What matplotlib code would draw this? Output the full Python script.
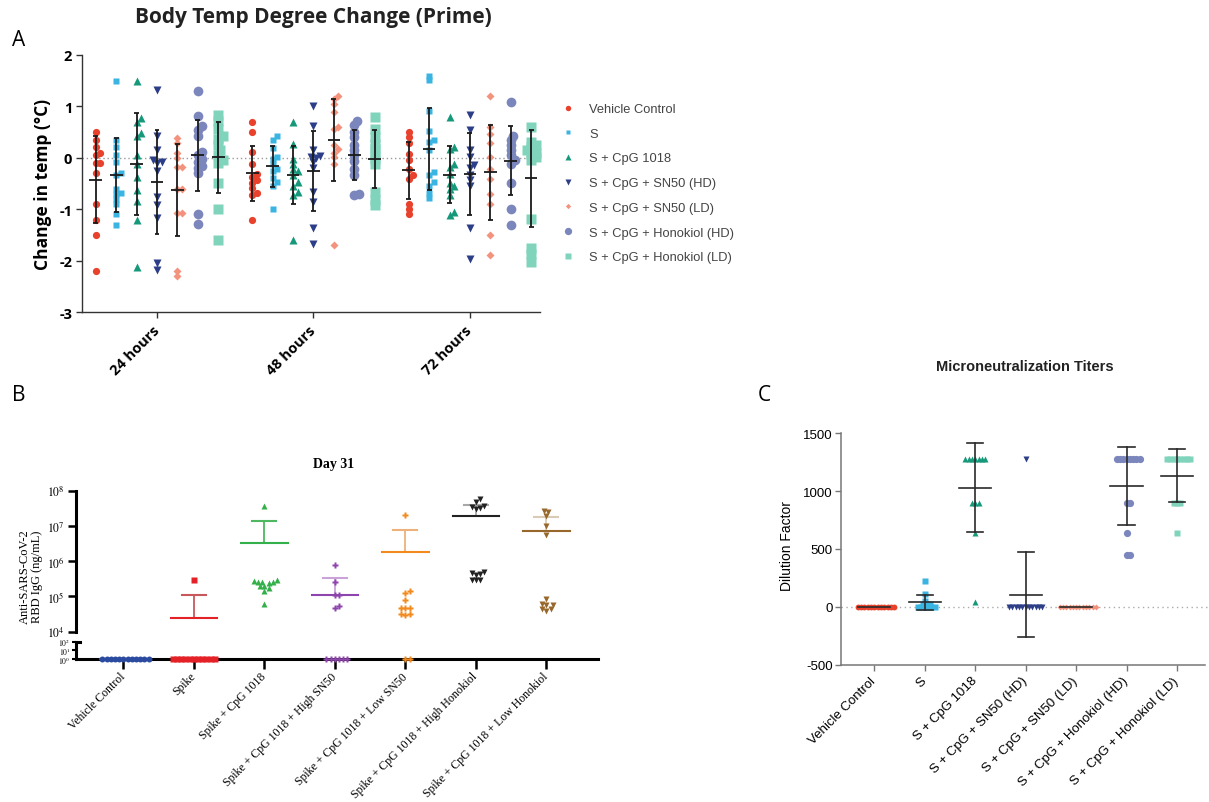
import numpy as np
import matplotlib
matplotlib.use("Agg")
from matplotlib import pyplot as plt
from matplotlib.lines import Line2D
from matplotlib.ticker import NullLocator

plt.rcParams['font.family'] = ['Open Sans', 'DejaVu Sans']
plt.rcParams['mathtext.fontset'] = 'stix'

# ---------------- A: body temperature change after prime (deg C)
times = ["24 hours", "48 hours", "72 hours"]
groups_a = ["Vehicle Control", "S", "S + CpG 1018", "S + CpG + SN50 (HD)",
            "S + CpG + SN50 (LD)", "S + CpG + Honokiol (HD)", "S + CpG + Honokiol (LD)"]

temp_24h = [
    [0.5, 0.35, 0.2, 0.1, 0.05, -0.1, -0.1, -0.3, -0.9, -1.2, -1.5, -2.2],
    [1.48, 0.35, 0.2, 0.05, -0.08, -0.3, -0.33, -0.6, -0.68, -0.7, -0.8, -0.9, -1.1, -1.3],
    [1.48, 0.77, 0.7, 0.48, 0.42, 0.06, -0.12, -0.37, -0.63, -0.85, -1.21, -2.12],
    [1.32, 0.43, 0.14, -0.05, -0.08, -0.1, -0.25, -0.76, -0.92, -1.18, -2.05, -2.18],
    [0.39, 0.28, 0.1, 0.0, -0.19, -0.19, -0.6, -0.6, -1.08, -1.08, -2.19, -2.3],
    [1.29, 0.8, 0.61, 0.54, 0.42, 0.11, 0.06, -0.02, -0.08, -0.16, -0.2, -0.29, -1.1, -1.29],
    [0.82, 0.72, 0.56, 0.42, 0.37, 0.24, 0.14, 0.06, -0.04, -0.1, -0.5, -1.0, -1.6],
]
temp_48h = [
    [0.7, 0.5, 0.11, -0.12, -0.31, -0.37, -0.44, -0.5, -0.59, -0.68, -0.73, -1.2],
    [0.42, 0.35, 0.19, 0.01, -0.02, -0.12, -0.21, -0.25, -0.4, -0.47, -0.54, -0.99],
    [0.7, 0.27, -0.02, -0.12, -0.21, -0.26, -0.33, -0.47, -0.54, -0.66, -0.73, -1.6],
    [1.01, 0.61, 0.14, 0.03, 0.01, 0.0, -0.08, -0.2, -0.66, -0.86, -1.37, -1.68],
    [1.2, 1.14, 1.05, 0.88, 0.59, 0.56, 0.25, 0.17, 0.1, 0.01, -0.12, -1.7],
    [0.72, 0.64, 0.5, 0.4, 0.24, 0.14, 0.05, -0.07, -0.21, -0.34, -0.7, -0.73],
    [0.79, 0.56, 0.4, 0.27, 0.17, 0.08, -0.02, -0.12, -0.66, -0.83, -0.92],
]
temp_72h = [
    [0.5, 0.4, 0.29, 0.08, -0.05, -0.21, -0.34, -0.41, -0.89, -0.99, -1.1],
    [1.59, 1.5, 0.9, 0.51, 0.34, 0.3, 0.14, -0.28, -0.34, -0.47, -0.54, -0.68, -0.79],
    [0.79, 0.21, 0.17, -0.12, -0.18, -0.31, -0.5, -0.54, -0.6, -0.73, -1.05, -1.12],
    [0.82, 0.53, 0.14, 0.01, -0.15, -0.2, -0.34, -0.44, -0.54, -1.37, -1.97],
    [1.19, 0.59, 0.46, 0.28, 0.01, -0.21, -0.41, -0.7, -0.89, -1.5, -1.89],
    [1.09, 0.42, 0.34, 0.24, 0.14, 0.05, -0.05, -0.12, -0.5, -1.0, -1.3],
    [0.59, 0.3, 0.24, 0.2, 0.14, 0.1, 0.08, 0.01, -0.05, -1.19, -1.76, -1.86, -2.02],
]

# ---------------- B: anti-RBD IgG at day 31 (ng/mL)
groups_b = ["Vehicle Control", "Spike", "Spike + CpG 1018",
            "Spike + CpG 1018 + High SN50", "Spike + CpG 1018 + Low SN50",
            "Spike + CpG 1018 + High Honokiol", "Spike + CpG 1018 + Low Honokiol"]
igg_vehicle = [1] * 12
igg_spike = [2.9e5] + [1] * 11
igg_cpg = [3.7e7, 3.0e5, 2.8e5, 2.6e5, 2.6e5, 2.6e5, 2.4e5,
           2.0e5, 2.0e5, 1.7e5, 1.45e5, 6.1e4]
igg_hi_sn50 = [7.8e5, 2.5e5, 1.1e5, 1.1e5, 5.2e4, 4.6e4] + [1] * 6
igg_lo_sn50 = [2.1e7, 1.46e5, 1.26e5, 7.9e4, 4.6e4, 4.6e4, 4.6e4,
               3.2e4, 3.2e4, 3.0e4, 1, 1]
igg_hi_hon = [5.9e7, 4.7e7, 3.7e7, 3.4e7, 3.2e7, 3.0e7,
              5.0e5, 4.6e5, 4.3e5, 4.0e5, 2.9e5, 2.9e5, 2.9e5]
igg_lo_hon = [2.7e7, 2.5e7, 1.95e7, 9.8e6, 5.6e6,
              8.5e4, 6.2e4, 5.7e4, 5.7e4, 4.4e4, 4.4e4, 3.8e4]

# ---------------- C: microneutralization titers (dilution factor)
groups_c = ["Vehicle Control", "S", "S + CpG 1018", "S + CpG + SN50 (HD)",
            "S + CpG + SN50 (LD)", "S + CpG + Honokiol (HD)", "S + CpG + Honokiol (LD)"]
neut_vehicle = [0] * 12
neut_s = [225, 112, 54, 25, 25, 25, 0, 0, 0, 0, 0, 0]
neut_cpg = [1280] * 7 + [900] * 3 + [640, 40]
neut_sn50_hd = [1280] + [0] * 11
neut_sn50_ld = [0] * 12
neut_hon_hd = [1280] * 8 + [900] * 2 + [640] + [450] * 2
neut_hon_ld = [1280] * 8 + [900] * 3 + [640]

# marker styles shared by A and C
col_ac = ["#E8412C", "#3AB5E2", "#16997A", "#2C3E87", "#F3937D", "#7B86BD", "#80D4BB"]
mk_a = ["o", "s", "^", "v", "D", "o", "s"]
ms_a = [5.2, 4.6, 5.4, 5.4, 3.6, 7.0, 6.6]
ms_c = [4.2, 4.2, 4.4, 4.4, 3.0, 5.2, 4.8]

col_b = ["#2B4BA0", "#E52128", "#33B04A", "#8E44AD", "#F28A1E", "#222222", "#98672B"]
err_b = ["#2B4BA0", "#C8585C", "#4DB860", "#C9A3DA", "#EDB27C", "#A8A8A8", "#DACBB4"]
mk_b = ["o", "s", "^", "P", "P", "v", "v"]


def swarm(vals, ypx, xpx, d):
    # horizontal offsets (in x units) so markers sit at least d px apart
    vals = np.asarray(vals, float)
    offs = np.zeros(len(vals))
    placed = []
    steps = [0.0]
    for k in range(1, 40):
        steps += [k * d / 2, -k * d / 2]
    for idx in np.argsort(vals, kind="stable"):
        y = vals[idx] * ypx
        for c in steps:
            if all((c - px) ** 2 + (y - py) ** 2 >= d * d * 0.999 for py, px in placed):
                break
        placed.append((y, c))
        offs[idx] = c / xpx
    return offs


W, H = 1209, 803
fig = plt.figure(figsize=(W / 100, H / 100), dpi=100)


def box(x0, y0, x1, y1):
    return [x0 / W, 1 - y1 / H, (x1 - x0) / W, (y1 - y0) / H]


def ftext(x, y, s, **kw):
    fig.text(x / W, 1 - y / H, s, **kw)


# ======================= panel A
axA = fig.add_axes(box(82, 55.6, 540, 313.3))
gap = 7.67
for g, block in enumerate([temp_24h, temp_48h, temp_72h]):
    for i, vals in enumerate(block):
        v = np.array(vals)
        x0 = g * gap + (i - 3)
        xs = x0 + swarm(v, 51.7, 20.4, 4.5)
        axA.plot(xs, v, ls="none", marker=mk_a[i], ms=ms_a[i], color=col_ac[i],
                 mec="none", zorder=2, clip_on=False)
        m, s = v.mean(), v.std(ddof=1)
        kw = dict(color="#1a1a1a", lw=1.3, zorder=4, solid_capstyle="butt")
        axA.plot([x0 - 0.31, x0 + 0.31], [m, m], **kw)
        axA.plot([x0, x0], [m - s, m + s], **kw)
        axA.plot([x0 - 0.12, x0 + 0.12], [m + s, m + s], **kw)
        axA.plot([x0 - 0.12, x0 + 0.12], [m - s, m - s], **kw)

axA.axhline(0, color="#9a9a9a", ls=(0, (1, 2)), lw=1, zorder=1)
axA.set_xlim((82 - 157) / 20.4, (540 - 157) / 20.4)
axA.set_ylim(-3, 2)
axA.set_yticks([-3, -2, -1, 0, 1, 2])
axA.set_yticklabels(["-3", "-2", "-1", "0", "1", "2"], fontweight="bold", fontsize=10.5)
axA.set_xticks([g * gap for g in range(3)])
axA.set_xticklabels(times, rotation=45, ha="right", va="center",
                    rotation_mode="anchor", fontweight="bold", fontsize=10.5)
axA.tick_params(axis="both", length=4, width=1, color="#333333", pad=3)
axA.tick_params(axis="x", pad=7)
for sp in ["top", "right"]:
    axA.spines[sp].set_visible(False)
for sp in ["left", "bottom"]:
    axA.spines[sp].set_color("#333333")
    axA.spines[sp].set_linewidth(1)
axA.set_ylabel("Change in temp (°C)", fontweight="bold", fontsize=12.5, labelpad=5)

handles = [Line2D([], [], ls="none", marker=mk_a[i], ms=ms_a[i] * 0.75,
                  color=col_ac[i], mec="none") for i in range(7)]
fig.legend(handles, groups_a, loc="upper left", bbox_to_anchor=(562 / W, 1 - 104 / H),
           frameon=False, borderpad=0, borderaxespad=0, handlelength=1.0,
           handletextpad=1.1, labelspacing=0.98,
           prop={"family": "Liberation Sans", "size": 9.3}, labelcolor="#444444")

ftext(313, 18, "Body Temp Degree Change (Prime)", ha="center", va="center",
      fontsize=15, fontweight="bold", color="#222222")
ftext(19, 40, "A", ha="center", va="center", fontsize=15)

# ======================= panel B (broken log axis)
axB = fig.add_axes(box(76, 491.7, 598, 632.7))
axB0 = fig.add_axes(box(76, 642.7, 598, 660))
xlo, xhi = (76 - 123.3) / 70.5, (598 - 123.3) / 70.5
serif = "Liberation Serif"

for i, vals in enumerate([igg_vehicle, igg_spike, igg_cpg, igg_hi_sn50,
                          igg_lo_sn50, igg_hi_hon, igg_lo_hon]):
    v = np.array(vals, float)
    xs = i + swarm(np.log10(v), 35.25, 70.5, 4.2)
    low = v <= 100
    axB0.plot(xs[low], v[low], ls="none", marker=mk_b[i], ms=4.3, color=col_b[i],
              mec="none", clip_on=False, zorder=5)
    axB.plot(xs[~low], v[~low], ls="none", marker=mk_b[i], ms=4.3, color=col_b[i],
             mec="none", clip_on=False, zorder=3)
    m, s = v.mean(), v.std(ddof=1)
    target = axB if m > 1e4 else axB0
    target.plot([i - 0.33, i + 0.33], [m, m], color=col_b[i], lw=1.5, zorder=4,
                clip_on=False)
    if s > 0 and m > 1e4:
        axB.plot([i, i], [m, m + s], color=err_b[i], lw=1.3, zorder=2)
        axB.plot([i - 0.17, i + 0.17], [m + s, m + s], color=err_b[i], lw=1.5, zorder=2)

axB.set_yscale("log")
axB.set_ylim(1e4, 1e8)
axB.set_xlim(xlo, xhi)
axB.set_yticks([1e4, 1e5, 1e6, 1e7, 1e8])
axB.set_yticklabels([r"$10^{%d}$" % k for k in range(4, 9)], fontsize=8.5)
axB.yaxis.set_minor_locator(NullLocator())
axB.set_xticks([])
axB.tick_params(axis="y", length=6, width=1.8, pad=2)
for sp in ["top", "right", "bottom"]:
    axB.spines[sp].set_visible(False)
axB.spines["left"].set_linewidth(2.2)

axB0.set_yscale("log")
axB0.set_ylim(1, 100)
axB0.set_xlim(xlo, xhi)
axB0.set_yticks([1, 10, 100])
axB0.set_yticklabels([r"$10^{%d}$" % k for k in range(3)], fontsize=5.5)
axB0.yaxis.set_minor_locator(NullLocator())
axB0.set_xticks(range(7))
axB0.set_xticklabels(groups_b, rotation=45, ha="right", va="center",
                     rotation_mode="anchor", fontsize=8.5, family=serif)
axB0.tick_params(axis="y", length=3, width=1.5, pad=1)
axB0.tick_params(axis="x", length=7, width=1.8, pad=4)
for sp in ["top", "right"]:
    axB0.spines[sp].set_visible(False)
axB0.spines["left"].set_linewidth(2.2)
axB0.spines["bottom"].set_linewidth(2.2)
axB0.plot([xlo, xlo + 0.06], [100, 100], color="black", lw=2.2, clip_on=False)

ftext(334, 465, "Day 31", ha="center", va="center", fontsize=10,
      fontweight="bold", family=serif)
ftext(31, 577, "Anti-SARS-CoV-2\nRBD IgG (ng/mL)", ha="center", va="center",
      rotation=90, fontsize=9, family=serif, linespacing=1.1)
ftext(19, 396, "B", ha="center", va="center", fontsize=15)

# ======================= panel C
axC = fig.add_axes(box(841, 434.3, 1205, 665.7))
for i, vals in enumerate([neut_vehicle, neut_s, neut_cpg, neut_sn50_hd,
                          neut_sn50_ld, neut_hon_hd, neut_hon_ld]):
    v = np.array(vals, float)
    xs = i + swarm(v, 0.1157, 50.45, 3.3)
    axC.plot(xs, v, ls="none", marker=mk_a[i], ms=ms_c[i], color=col_ac[i],
             mec="none", zorder=2)
    m, s = v.mean(), v.std(ddof=1)
    kw = dict(color="#2a2a2a", lw=1.2, zorder=4)
    axC.plot([i - 0.32, i + 0.32], [m, m], **kw)
    if s > 0:
        axC.plot([i, i], [m - s, m + s], **kw)
        axC.plot([i - 0.16, i + 0.16], [m + s, m + s], **kw)
        axC.plot([i - 0.16, i + 0.16], [m - s, m - s], **kw)

axC.axhline(0, color="#aaaaaa", ls=(0, (1, 2.5)), lw=1, zorder=1, xmax=1.01,
            clip_on=False)
axC.set_xlim((841 - 874.3) / 50.45, (1205 - 874.3) / 50.45)
axC.set_ylim(-500, 1500)
axC.set_yticks([-500, 0, 500, 1000, 1500])
axC.set_yticklabels(["-500", "0", "500", "1000", "1500"], fontsize=9.5,
                    family="Liberation Sans")
axC.set_xticks(range(7))
axC.set_xticklabels(groups_c, rotation=45, ha="right", va="center",
                    rotation_mode="anchor", fontsize=9.5, family="Liberation Sans")
axC.tick_params(axis="both", length=4, width=1, color="#777777", pad=2)
axC.tick_params(axis="x", pad=6)
for sp in ["top", "right"]:
    axC.spines[sp].set_visible(False)
for sp in ["left", "bottom"]:
    axC.spines[sp].set_color("#777777")
    axC.spines[sp].set_linewidth(1.1)

ftext(787, 546, "Dilution Factor", ha="center", va="center", rotation=90,
      fontsize=10, family="Liberation Sans")
ftext(1025, 367, "Microneutralization Titers", ha="center", va="center",
      fontsize=10.5, fontweight="bold", family="Liberation Sans", color="#222222")
ftext(764, 396, "C", ha="center", va="center", fontsize=15)

fig.savefig("out.png", dpi=100)
